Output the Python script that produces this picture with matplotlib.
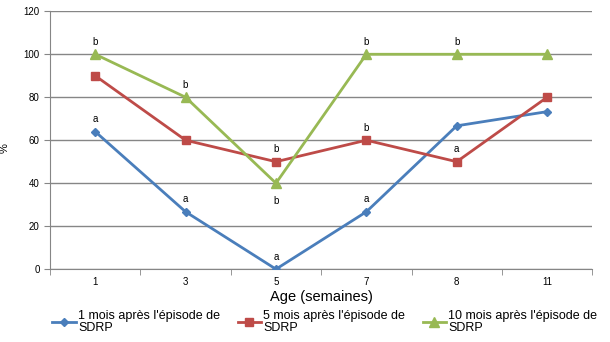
import matplotlib.pyplot as plt
import numpy as np

ages = ['1', '3', '5', '7', '8', '11']
serie_1mois = [64, 26.7, 0, 26.7, 66.7, 73.3]
serie_5mois = [90, 60, 50, 60, 50, 80]
serie_10mois = [100, 80, 40, 100, 100, 100]
noms = ["1 mois après l'épisode de\nSDRP",
        "5 mois après l'épisode de\nSDRP",
        "10 mois après l'épisode de\nSDRP"]

# lettres de significativité : (série, index, lettre, dessous?)
lettres = [
    (0, 0, 'a', False), (0, 1, 'a', False), (0, 2, 'a', False), (0, 3, 'a', False),
    (1, 2, 'b', False), (1, 3, 'b', False), (1, 4, 'a', False),
    (2, 0, 'b', False), (2, 1, 'b', False), (2, 2, 'b', True),
    (2, 3, 'b', False), (2, 4, 'b', False),
]

couleurs = ['#4A7EBB', '#BE4B48', '#98B954']
marqueurs = ['D', 's', '^']
tailles = [4, 6, 6.5]

plt.rcParams['font.family'] = ['Liberation Sans', 'DejaVu Sans']

fig = plt.figure(figsize=(6.1, 3.42), dpi=100)
ax = fig.add_axes([0.082, 0.213, 0.889, 0.754])

x = np.arange(len(ages))
series = [serie_1mois, serie_5mois, serie_10mois]
lignes = []
for i, s in enumerate(series):
    l, = ax.plot(x, s, color=couleurs[i], marker=marqueurs[i], markersize=tailles[i],
                 linewidth=2, label=noms[i], zorder=3)
    lignes.append(l)

for si, idx, txt, dessous in lettres:
    dy = -13 if dessous else 9
    ax.annotate(txt, (x[idx], series[si][idx]), xytext=(0, dy), textcoords='offset points',
                ha='center', va='center', fontsize=7)

ax.set_xlim(-0.5, len(ages) - 0.5)
ax.set_ylim(0, 120)
ax.set_yticks(np.arange(0, 121, 20))
ax.set_xticks(x)
ax.set_xticklabels(ages)
ax.set_xticks(np.arange(-0.5, len(ages), 1), minor=True)
ax.tick_params(axis='x', which='major', length=0, labelsize=7, pad=6)
ax.tick_params(axis='x', which='minor', length=4, color='#868686')
ax.tick_params(axis='y', length=4, color='#868686', labelsize=7)
ax.grid(axis='y', color='#868686', linewidth=1)
ax.set_axisbelow(True)
for sp in ['top', 'right']:
    ax.spines[sp].set_visible(False)
for sp in ['left', 'bottom']:
    ax.spines[sp].set_color('#868686')

ax.set_xlabel('Age (semaines)', fontsize=10.5)
ax.xaxis.set_label_coords(0.5, -0.08)
ax.set_ylabel('%', fontsize=8)
ax.yaxis.set_label_coords(-0.075, 0.47)

leg = fig.legend(handles=lignes, loc='upper left', bbox_to_anchor=(0.086, 0.094), ncol=3,
                 frameon=False, fontsize=9, handlelength=1.9, handletextpad=0.15,
                 columnspacing=1.4, borderpad=0.0, borderaxespad=0.0)
for t in leg.get_texts():
    t.set_linespacing(1.05)

fig.savefig('out.png', dpi=100)
